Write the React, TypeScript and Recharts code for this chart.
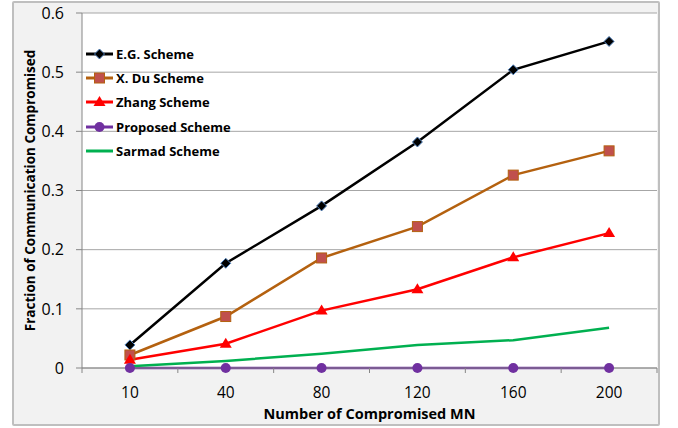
import React from 'react';
import { LineChart, Line, XAxis, YAxis, CartesianGrid, Legend, Label } from 'recharts';

// Number of compromised MN on the x axis
const categories = ['10', '40', '80', '120', '160', '200'];

// Fraction of communication compromised, per scheme
const egScheme = [0.039, 0.177, 0.274, 0.382, 0.504, 0.552];
const xDuScheme = [0.022, 0.087, 0.186, 0.239, 0.326, 0.367];
const zhangScheme = [0.014, 0.041, 0.097, 0.133, 0.187, 0.228];
const proposedScheme = [0, 0, 0, 0, 0, 0];
const sarmadScheme = [0.003, 0.012, 0.024, 0.039, 0.047, 0.068];

const yTicks = [0, 0.1, 0.2, 0.3, 0.4, 0.5, 0.6];

const data = categories.map((mn, i) => ({
  mn,
  eg: egScheme[i],
  xdu: xDuScheme[i],
  zhang: zhangScheme[i],
  proposed: proposedScheme[i],
  sarmad: sarmadScheme[i],
}));

type Marker = 'diamond' | 'square' | 'triangle' | 'circle' | 'none';

const series: { key: string; name: string; color: string; marker: Marker }[] = [
  { key: 'eg', name: 'E.G. Scheme', color: '#000000', marker: 'diamond' },
  { key: 'xdu', name: 'X. Du Scheme', color: '#b4610f', marker: 'square' },
  { key: 'zhang', name: 'Zhang Scheme', color: '#ff0000', marker: 'triangle' },
  { key: 'proposed', name: 'Proposed Scheme', color: '#7030a0', marker: 'circle' },
  { key: 'sarmad', name: 'Sarmad Scheme', color: '#00b050', marker: 'none' },
];

const WIDTH = 678;
const HEIGHT = 428;
const MARGIN = { top: 13, right: 21, bottom: 0, left: 0 };
const Y_AXIS_WIDTH = 82;
const X_AXIS_HEIGHT = 60;
const X_TICK_SIZE = 5;
const X_TICK_MARGIN = 14;
const AXIS_COLOR = '#868686';
const FONT = '"Open Sans", "Noto Sans", sans-serif';

// half of one category band: points sit in the middle of their band
const PLOT_WIDTH = WIDTH - MARGIN.left - MARGIN.right - Y_AXIS_WIDTH;
const HALF_BAND = PLOT_WIDTH / categories.length / 2;

const MarkerShape = ({ type, cx, cy, color }: { type: Marker; cx: number; cy: number; color: string }) => {
  switch (type) {
    case 'diamond':
      return (
        <path
          d={`M${cx},${cy - 5}L${cx + 5},${cy}L${cx},${cy + 5}L${cx - 5},${cy}Z`}
          fill="#000000"
          stroke="#4f81bd"
          strokeWidth={1}
        />
      );
    case 'square':
      return <rect x={cx - 5} y={cy - 5} width={10} height={10} fill="#c0504d" stroke="#b4610f" strokeWidth={1} />;
    case 'triangle':
      return <path d={`M${cx},${cy - 6}L${cx + 6},${cy + 4}L${cx - 6},${cy + 4}Z`} fill={color} />;
    case 'circle':
      return <circle cx={cx} cy={cy} r={5} fill={color} />;
    default:
      return null;
  }
};

const renderDot = (marker: Marker, color: string) => (props: any) => {
  const { cx, cy, index, dataKey } = props;
  if (marker === 'none' || cx == null || cy == null) return <g key={`${dataKey}-${index}`} />;
  return (
    <g key={`${dataKey}-${index}`}>
      <MarkerShape type={marker} cx={cx} cy={cy} color={color} />
    </g>
  );
};

// category labels with tick marks on the band edges
const XTick = (props: any) => {
  const { x, y, payload, index } = props;
  const axisY = y - X_TICK_SIZE - X_TICK_MARGIN;
  return (
    <g>
      <line x1={x - HALF_BAND} y1={axisY} x2={x - HALF_BAND} y2={axisY + X_TICK_SIZE} stroke={AXIS_COLOR} />
      {index === categories.length - 1 && (
        <line x1={x + HALF_BAND} y1={axisY} x2={x + HALF_BAND} y2={axisY + X_TICK_SIZE} stroke={AXIS_COLOR} />
      )}
      <text x={x} y={y} dy="0.71em" textAnchor="middle" fill="#000" fontSize={15.5} fontFamily={FONT}>
        {payload.value}
      </text>
    </g>
  );
};

const LegendBox = () => (
  <div style={{ fontFamily: FONT, fontWeight: 700, fontSize: 13, color: '#000' }}>
    {series.map((s) => (
      <div key={s.key} style={{ display: 'flex', alignItems: 'center', height: 24.2 }}>
        <svg width={30} height={14} style={{ display: 'block' }}>
          <line x1={0} y1={7} x2={27} y2={7} stroke={s.color} strokeWidth={3} />
          <MarkerShape type={s.marker} cx={13.5} cy={7} color={s.color} />
        </svg>
        <span style={{ whiteSpace: 'nowrap' }}>{s.name}</span>
      </div>
    ))}
  </div>
);

export default function App() {
  return (
    <div style={{ position: 'fixed', left: 0, top: 0, width: WIDTH, height: HEIGHT, background: '#ffffff' }}>
      <div
        style={{
          position: 'absolute',
          left: 12,
          top: 1,
          width: 648,
          height: 425,
          boxSizing: 'border-box',
          background: '#f2f2f2',
          border: '2px solid #bfbfbf',
          borderRadius: 2,
        }}
      />
      <div style={{ position: 'absolute', left: 0, top: 0 }}>
        <LineChart width={WIDTH} height={HEIGHT} data={data} margin={MARGIN}>
          <CartesianGrid vertical={false} stroke="#a6a6a6" fill="#ffffff" />
          <XAxis
            dataKey="mn"
            height={X_AXIS_HEIGHT}
            padding={{ left: HALF_BAND, right: HALF_BAND }}
            tickLine={false}
            tickSize={X_TICK_SIZE}
            tickMargin={X_TICK_MARGIN}
            axisLine={{ stroke: AXIS_COLOR }}
            tick={<XTick />}
            interval={0}
          >
            <Label
              value="Number of Compromised MN"
              position="insideBottom"
              offset={9}
              style={{ fontFamily: FONT, fontWeight: 700, fontSize: 14.5, fill: '#000' }}
            />
          </XAxis>
          <YAxis
            width={Y_AXIS_WIDTH}
            domain={[0, 0.6]}
            ticks={yTicks}
            interval={0}
            tickSize={6}
            tickMargin={12}
            axisLine={{ stroke: AXIS_COLOR }}
            tickLine={{ stroke: AXIS_COLOR }}
            tick={{ fill: '#000', fontSize: 16, fontFamily: FONT }}
          >
            <Label
              value="Fraction of Communication Compromised"
              angle={-90}
              position="insideLeft"
              offset={30}
              style={{ fontFamily: FONT, fontWeight: 700, fontSize: 13.5, fill: '#000', textAnchor: 'middle' }}
            />
          </YAxis>
          <Legend
            layout="vertical"
            align="center"
            verticalAlign="middle"
            wrapperStyle={{ left: 86, top: 42, width: 'auto' }}
            content={() => <LegendBox />}
          />
          {series.map((s) => (
            <Line
              key={s.key}
              dataKey={s.key}
              name={s.name}
              type="linear"
              stroke={s.color}
              strokeWidth={2.5}
              dot={renderDot(s.marker, s.color)}
              activeDot={false}
              isAnimationActive={false}
            />
          ))}
        </LineChart>
      </div>
    </div>
  );
}
